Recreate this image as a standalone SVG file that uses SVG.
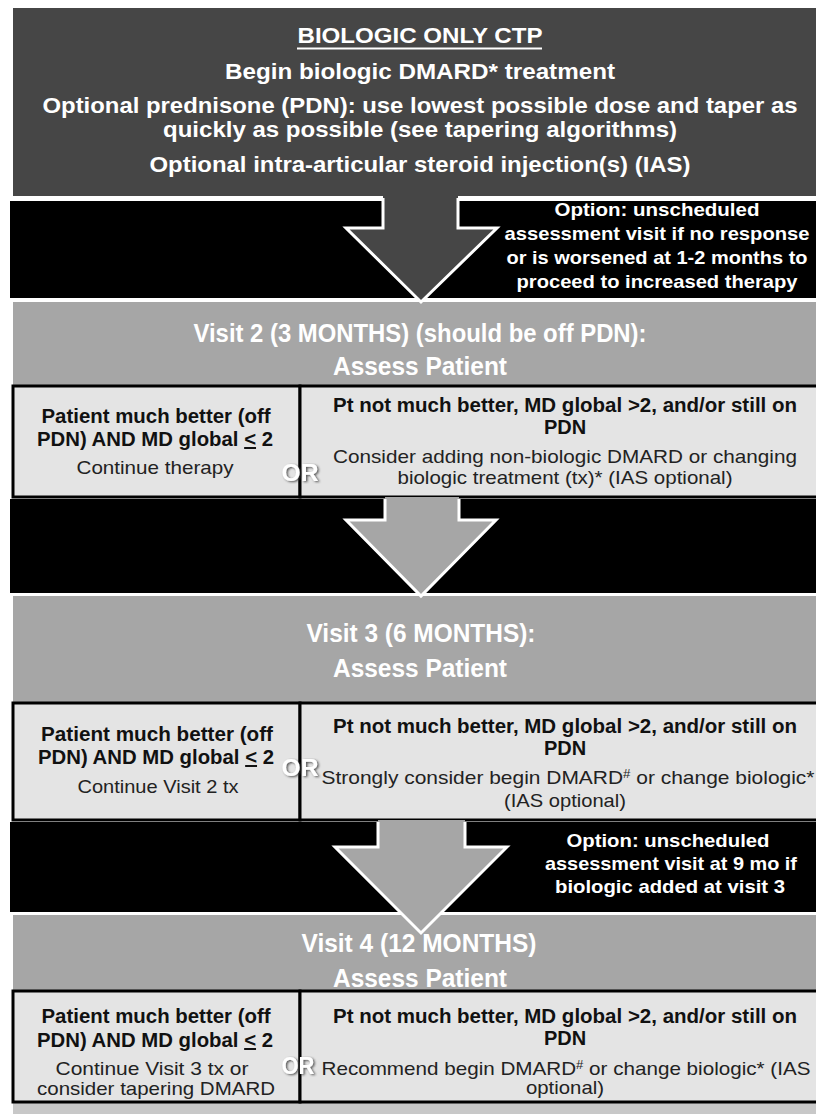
<svg xmlns="http://www.w3.org/2000/svg" width="816" height="1114" viewBox="0 0 816 1114">
<defs>
<style>
text{font-family:"Liberation Sans",Arial,sans-serif;text-anchor:middle}
.hd{fill:#fff;font-weight:bold;font-size:22.5px}
.vh{fill:#fff;font-weight:bold;font-size:25px}
.op{fill:#fff;font-weight:bold;font-size:18.5px}
.b{fill:#111;font-weight:bold;font-size:20px}
.r{fill:#222;font-size:19px}
.or{fill:#fff;font-weight:bold;font-size:24px;filter:url(#sh)}
.box{fill:#e4e4e4;stroke:#000;stroke-width:3}
.band{fill:#000}
.gray{fill:#a6a6a6}
.arrowline{fill:none;stroke:#fff;stroke-width:3;stroke-linejoin:miter}
</style>
<filter id="sh" x="-30%" y="-30%" width="160%" height="160%">
<feDropShadow dx="1.5" dy="1" stdDeviation="0.8" flood-color="#333" flood-opacity="0.8"/>
</filter>
</defs>
<rect width="816" height="1114" fill="#fff"/>

<g id="header">
<rect x="13" y="8" width="803" height="188" fill="#464646"/>
<text class="hd" x="420" y="43" textLength="245" lengthAdjust="spacingAndGlyphs">BIOLOGIC ONLY CTP</text>
<line x1="297" y1="48.5" x2="542" y2="48.5" stroke="#fff" stroke-width="2"/>
<text class="hd" x="420" y="79" textLength="390" lengthAdjust="spacingAndGlyphs">Begin biologic DMARD* treatment</text>
<text class="hd" x="420" y="113" textLength="755" lengthAdjust="spacingAndGlyphs">Optional prednisone (PDN): use lowest possible dose and taper as</text>
<text class="hd" x="420" y="137" textLength="514" lengthAdjust="spacingAndGlyphs">quickly as possible (see tapering algorithms)</text>
<text class="hd" x="420" y="172" textLength="541" lengthAdjust="spacingAndGlyphs">Optional intra-articular steroid injection(s) (IAS)</text>
</g>

<g id="bands">
<rect class="band" x="10" y="200" width="806" height="98"/>
<rect class="band" x="10" y="499" width="806" height="94"/>
<rect class="band" x="10" y="822" width="806" height="90"/>
<rect x="13" y="1102" width="803" height="12" fill="#c8c8c8"/>
</g>

<g id="note1">
<text class="op" x="657" y="216" textLength="205" lengthAdjust="spacingAndGlyphs">Option: unscheduled</text>
<text class="op" x="657" y="240" textLength="305" lengthAdjust="spacingAndGlyphs">assessment visit if no response</text>
<text class="op" x="657" y="264" textLength="301" lengthAdjust="spacingAndGlyphs">or is worsened at 1-2 months to</text>
<text class="op" x="657" y="288" textLength="281" lengthAdjust="spacingAndGlyphs">proceed to increased therapy</text>
</g>

<g id="visit2">
<rect class="gray" x="13" y="302" width="803" height="84"/>
<text class="vh" x="420" y="342" textLength="453" lengthAdjust="spacingAndGlyphs">Visit 2 (3 MONTHS) (should be off PDN):</text>
<text class="vh" x="420" y="375" textLength="174" lengthAdjust="spacingAndGlyphs">Assess Patient</text>
</g>
<g id="visit2-better">
<rect class="box" x="13" y="386" width="287" height="111"/>
<text class="b" x="156" y="423" textLength="229" lengthAdjust="spacingAndGlyphs">Patient much better (off</text>
<text class="b" x="155" y="446" textLength="236" lengthAdjust="spacingAndGlyphs">PDN) AND MD global <tspan text-decoration="underline">&lt;</tspan> 2</text>
<text class="r" x="155" y="474" textLength="157" lengthAdjust="spacingAndGlyphs">Continue therapy</text>
</g>
<g id="visit2-notbetter">
<rect class="box" x="300" y="386" width="520" height="111"/>
<text class="b" x="565" y="412" textLength="464" lengthAdjust="spacingAndGlyphs">Pt not much better, MD global &gt;2, and/or still on</text>
<text class="b" x="565" y="434">PDN</text>
<text class="r" x="565" y="463" textLength="464" lengthAdjust="spacingAndGlyphs">Consider adding non-biologic DMARD or changing</text>
<text class="r" x="565" y="484" textLength="335" lengthAdjust="spacingAndGlyphs">biologic treatment (tx)* (IAS optional)</text>
</g>
<text id="or2" class="or" x="300" y="481" textLength="37" lengthAdjust="spacingAndGlyphs">OR</text>

<g id="visit3">
<rect class="gray" x="13" y="596" width="803" height="107"/>
<text class="vh" x="421" y="642" textLength="229" lengthAdjust="spacingAndGlyphs">Visit 3 (6 MONTHS):</text>
<text class="vh" x="420" y="677" textLength="174" lengthAdjust="spacingAndGlyphs">Assess Patient</text>
</g>
<g id="visit3-better">
<rect class="box" x="13" y="703" width="287" height="117"/>
<text class="b" x="157" y="741" textLength="232" lengthAdjust="spacingAndGlyphs">Patient much better (off</text>
<text class="b" x="156" y="764" textLength="236" lengthAdjust="spacingAndGlyphs">PDN) AND MD global <tspan text-decoration="underline">&lt;</tspan> 2</text>
<text class="r" x="158" y="793" textLength="161" lengthAdjust="spacingAndGlyphs">Continue  Visit 2 tx</text>
</g>
<g id="visit3-notbetter">
<rect class="box" x="300" y="703" width="520" height="117"/>
<text class="b" x="565" y="733" textLength="464" lengthAdjust="spacingAndGlyphs">Pt not much better, MD global &gt;2, and/or still on</text>
<text class="b" x="565" y="755">PDN</text>
<text class="r" x="568" y="784" textLength="493" lengthAdjust="spacingAndGlyphs">Strongly consider begin DMARD<tspan font-size="12" dy="-6">#</tspan><tspan dy="6"> or change biologic*</tspan></text>
<text class="r" x="565" y="807" textLength="122" lengthAdjust="spacingAndGlyphs">(IAS optional)</text>
</g>
<text id="or3" class="or" x="300" y="776" textLength="37" lengthAdjust="spacingAndGlyphs">OR</text>

<g id="note3">
<text class="op" x="668" y="847" textLength="203" lengthAdjust="spacingAndGlyphs">Option: unscheduled</text>
<text class="op" x="671" y="870" textLength="252" lengthAdjust="spacingAndGlyphs">assessment visit at 9 mo if</text>
<text class="op" x="670" y="893" textLength="230" lengthAdjust="spacingAndGlyphs">biologic added at visit 3</text>
</g>

<g id="visit4">
<rect class="gray" x="13" y="915" width="803" height="76"/>
</g>

<g id="connectors">
<polygon points="383,196 383,228 346,228 421,302 497,228 458,228 458,196" fill="#464646"/>
<polyline class="arrowline" points="10,199.5 383,199.5 383,228 346,228 421,302 497,228 458,228 458,199.5 816,199.5"/>
<polygon points="385,497 385,520 346,520 421,596 496,520 459,520 459,497" fill="#a6a6a6"/>
<polyline class="arrowline" points="385,499 385,520 346,520 421,596 496,520 459,520 459,499"/>
<polygon points="378,820 378,847 335,847 421,933 507,847 465,847 465,820" fill="#a6a6a6"/>
<polyline class="arrowline" points="378,822 378,847 335,847 421,933 507,847 465,847 465,822"/>
</g>

<g id="visit4-title">
<text class="vh" x="419" y="952" textLength="235" lengthAdjust="spacingAndGlyphs">Visit 4 (12  MONTHS)</text>
<text class="vh" x="420" y="987" textLength="174" lengthAdjust="spacingAndGlyphs">Assess Patient</text>
</g>
<g id="visit4-better">
<rect class="box" x="13" y="991" width="287" height="111"/>
<text class="b" x="156" y="1023" textLength="229" lengthAdjust="spacingAndGlyphs">Patient much better (off</text>
<text class="b" x="155" y="1047" textLength="236" lengthAdjust="spacingAndGlyphs">PDN) AND MD global <tspan text-decoration="underline">&lt;</tspan> 2</text>
<text class="r" x="152" y="1075" textLength="193" lengthAdjust="spacingAndGlyphs">Continue Visit 3 tx or</text>
<text class="r" x="156" y="1095" textLength="238" lengthAdjust="spacingAndGlyphs">consider tapering DMARD</text>
</g>
<g id="visit4-notbetter">
<rect class="box" x="300" y="991" width="520" height="111"/>
<text class="b" x="565" y="1023" textLength="464" lengthAdjust="spacingAndGlyphs">Pt not much better, MD global &gt;2, and/or still on</text>
<text class="b" x="565" y="1045">PDN</text>
<text class="r" x="566" y="1075" textLength="489" lengthAdjust="spacingAndGlyphs">Recommend begin DMARD<tspan font-size="12" dy="-6">#</tspan><tspan dy="6"> or change biologic* (IAS</tspan></text>
<text class="r" x="565" y="1094" textLength="78" lengthAdjust="spacingAndGlyphs">optional)</text>
</g>
<text id="or4" class="or" x="298" y="1074" textLength="33" lengthAdjust="spacingAndGlyphs">OR</text>
</svg>
